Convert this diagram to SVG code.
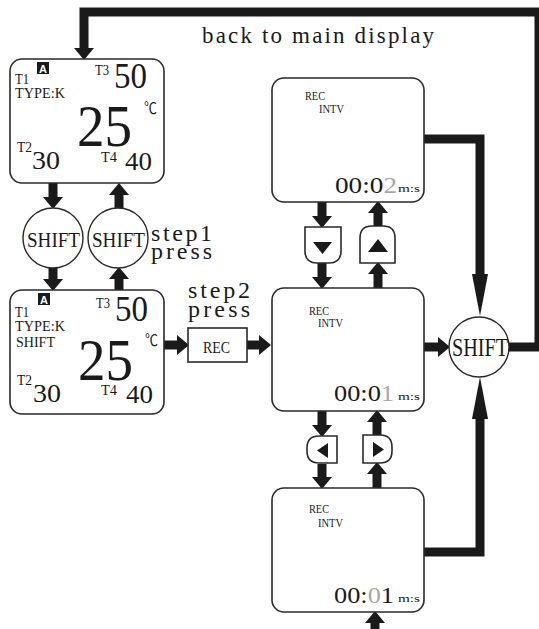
<svg xmlns="http://www.w3.org/2000/svg" width="539" height="629" viewBox="0 0 539 629">
<style>
.s{font-family:'Liberation Serif','Times New Roman',serif;fill:#1a1a1a}
.deg{font-family:'Liberation Serif','Noto Sans CJK SC',serif;font-size:16px;fill:#1a1a1a}
.box{fill:#fff;stroke:#2a2a2a;stroke-width:1.6}
.circ{fill:#fff;stroke:#2a2a2a;stroke-width:1.4}
.tri{fill:#1a1a1a}
.g{fill:#a8a8a8}
.inv{font-family:'Liberation Sans',sans-serif;font-weight:bold;font-size:11px;fill:#fff}
</style>
<defs>
<marker id="ah" markerUnits="userSpaceOnUse" markerWidth="12" markerHeight="20" refX="0" refY="10" orient="auto"><path d="M0,0 L12,10 L0,20 Z" fill="#1a1a1a"/></marker>
<marker id="ahl" markerUnits="userSpaceOnUse" markerWidth="42" markerHeight="16" refX="0" refY="8" orient="auto"><path d="M0,0 L42,8 L0,16 Z" fill="#1a1a1a"/></marker>
</defs>

<g id="connectors" fill="none" stroke="#1a1a1a" stroke-width="9">
<path d="M509,347 H539 V12 H84 V48" marker-end="url(#ah)"/>
<path d="M53,183 V197" marker-end="url(#ah)"/>
<path d="M53,268 V279" marker-end="url(#ah)"/>
<path d="M119,290 V279" marker-end="url(#ah)"/>
<path d="M119,208 V195" marker-end="url(#ah)"/>
<path d="M164,345 H177" marker-end="url(#ah)"/>
<path d="M247,345 H259" marker-end="url(#ah)"/>
<path d="M322,202 V216" marker-end="url(#ah)"/>
<path d="M322,263 V277" marker-end="url(#ah)"/>
<path d="M378,288 V274" marker-end="url(#ah)"/>
<path d="M378,226 V213" marker-end="url(#ah)"/>
<path d="M322,411 V425" marker-end="url(#ah)"/>
<path d="M322,464 V477" marker-end="url(#ah)"/>
<path d="M377,488 V474" marker-end="url(#ah)"/>
<path d="M377,435 V422" marker-end="url(#ah)"/>
<path d="M375,629 V623" marker-end="url(#ah)"/>
<path d="M424,347 H438" marker-end="url(#ah)"/>
<path d="M424,139 H480 V274" marker-end="url(#ahl)"/>
<path d="M424,552 H480 V419" marker-end="url(#ahl)"/>
</g>

<g id="labels" class="s">
<text x="202" y="43" font-size="23" textLength="232" lengthAdjust="spacing">back to main display</text>
<text x="151" y="241" font-size="24" textLength="61" lengthAdjust="spacing">step1</text>
<text x="151" y="259" font-size="24" textLength="61" lengthAdjust="spacing">press</text>
<text x="188" y="298" font-size="24" textLength="62" lengthAdjust="spacing">step2</text>
<text x="188" y="317" font-size="24" textLength="62" lengthAdjust="spacing">press</text>
</g>

<g id="main-display">
<rect class="box" x="10" y="59" width="154" height="124" rx="12"/>
<rect x="37" y="62" width="12" height="12" fill="#1a1a1a"/>
<text class="inv" x="43" y="72.5" text-anchor="middle">A</text>
<g class="s">
<text x="15" y="84" font-size="15" textLength="14" lengthAdjust="spacingAndGlyphs">T1</text>
<text x="15" y="98" font-size="15" textLength="50" lengthAdjust="spacingAndGlyphs">TYPE:K</text>
<text x="95" y="75" font-size="15" textLength="14" lengthAdjust="spacingAndGlyphs">T3</text>
<text x="114" y="88" font-size="35" textLength="33" lengthAdjust="spacingAndGlyphs">50</text>
<text x="77" y="146" font-size="60" textLength="55" lengthAdjust="spacingAndGlyphs">25</text>
<text x="17" y="152" font-size="14" textLength="15" lengthAdjust="spacingAndGlyphs">T2</text>
<text x="32" y="169" font-size="25" textLength="28" lengthAdjust="spacingAndGlyphs">30</text>
<text x="101" y="162" font-size="15" textLength="16" lengthAdjust="spacingAndGlyphs">T4</text>
<text x="125" y="170" font-size="26" textLength="27" lengthAdjust="spacingAndGlyphs">40</text>
</g>
<text class="deg" x="144" y="114" textLength="13" lengthAdjust="spacingAndGlyphs">℃</text>
</g>

<g id="shift-in">
<circle class="circ" cx="53" cy="238" r="30"/>
<text class="s" x="27" y="247" font-size="22" textLength="53" lengthAdjust="spacingAndGlyphs">SHIFT</text>
</g>
<g id="shift-out">
<circle class="circ" cx="118" cy="238" r="30"/>
<text class="s" x="92" y="247" font-size="22" textLength="53" lengthAdjust="spacingAndGlyphs">SHIFT</text>
</g>

<g id="shift-display">
<rect class="box" x="10" y="290" width="154" height="124" rx="12"/>
<rect x="38" y="293" width="12" height="12" fill="#1a1a1a"/>
<text class="inv" x="44" y="303.5" text-anchor="middle">A</text>
<g class="s">
<text x="15" y="317" font-size="15" textLength="14" lengthAdjust="spacingAndGlyphs">T1</text>
<text x="15" y="331" font-size="15" textLength="50" lengthAdjust="spacingAndGlyphs">TYPE:K</text>
<text x="16" y="347" font-size="15" textLength="39" lengthAdjust="spacingAndGlyphs">SHIFT</text>
<text x="96" y="308" font-size="15" textLength="14" lengthAdjust="spacingAndGlyphs">T3</text>
<text x="115" y="321" font-size="35" textLength="33" lengthAdjust="spacingAndGlyphs">50</text>
<text x="78" y="380" font-size="60" textLength="55" lengthAdjust="spacingAndGlyphs">25</text>
<text x="17" y="385" font-size="14" textLength="15" lengthAdjust="spacingAndGlyphs">T2</text>
<text x="33" y="402" font-size="25" textLength="28" lengthAdjust="spacingAndGlyphs">30</text>
<text x="101" y="395" font-size="15" textLength="16" lengthAdjust="spacingAndGlyphs">T4</text>
<text x="126" y="403" font-size="26" textLength="27" lengthAdjust="spacingAndGlyphs">40</text>
</g>
<text class="deg" x="145" y="346" textLength="13" lengthAdjust="spacingAndGlyphs">℃</text>
</g>

<g id="rec-key">
<rect class="box" x="188" y="328" width="59" height="34"/>
<text class="s" x="203" y="353" font-size="17" textLength="27" lengthAdjust="spacingAndGlyphs">REC</text>
</g>

<g id="intv-2s" class="s">
<rect class="box" x="272" y="78" width="152" height="124" rx="12"/>
<text x="305" y="100" font-size="12" textLength="20" lengthAdjust="spacingAndGlyphs">REC</text>
<text x="319" y="113" font-size="12" textLength="25" lengthAdjust="spacingAndGlyphs">INTV</text>
<text x="335" y="193" font-size="24" textLength="62" lengthAdjust="spacingAndGlyphs">00:0<tspan class="g">2</tspan></text>
<text x="398" y="192" font-size="11" textLength="22" lengthAdjust="spacingAndGlyphs">m:s</text>
</g>

<g id="intv-1s" class="s">
<rect class="box" x="272" y="288" width="152" height="123" rx="12"/>
<text x="309" y="315" font-size="12" textLength="20" lengthAdjust="spacingAndGlyphs">REC</text>
<text x="318" y="327" font-size="12" textLength="25" lengthAdjust="spacingAndGlyphs">INTV</text>
<text x="334" y="401" font-size="24" textLength="60" lengthAdjust="spacingAndGlyphs">00:0<tspan class="g">1</tspan></text>
<text x="398" y="400" font-size="11" textLength="22" lengthAdjust="spacingAndGlyphs">m:s</text>
</g>

<g id="intv-1m" class="s">
<rect class="box" x="272" y="488" width="152" height="124" rx="12"/>
<text x="309" y="513" font-size="12" textLength="20" lengthAdjust="spacingAndGlyphs">REC</text>
<text x="318" y="527" font-size="12" textLength="25" lengthAdjust="spacingAndGlyphs">INTV</text>
<text x="334" y="603" font-size="24" textLength="60" lengthAdjust="spacingAndGlyphs">00:<tspan class="g">0</tspan>1</text>
<text x="398" y="602" font-size="11" textLength="22" lengthAdjust="spacingAndGlyphs">m:s</text>
</g>

<g id="key-down">
<path class="box" d="M305,227 H341 V251 Q341,263 329,263 H317 Q305,263 305,251 Z"/>
<polygon class="tri" points="313,242 332,242 322.5,254"/>
</g>
<g id="key-up">
<path class="box" d="M360,263 V238 Q360,226 372,226 H383 Q395,226 395,238 V263 Z"/>
<polygon class="tri" points="378,239 368,252 388,252"/>
</g>
<g id="key-left">
<path class="box" d="M337,436 H319 Q307,436 307,448 V451 Q307,463 319,463 H337 Z"/>
<polygon class="tri" points="317,450.5 328,443 328,458"/>
</g>
<g id="key-right">
<path class="box" d="M363,435 H380 Q392,435 392,447 V451 Q392,463 380,463 H363 Z"/>
<polygon class="tri" points="373,442 373,457 384,449.5"/>
</g>

<g id="shift-main">
<circle class="circ" cx="479" cy="347" r="30"/>
<text class="s" x="452" y="356" font-size="26" textLength="56" lengthAdjust="spacingAndGlyphs">SHIFT</text>
</g>
</svg>
